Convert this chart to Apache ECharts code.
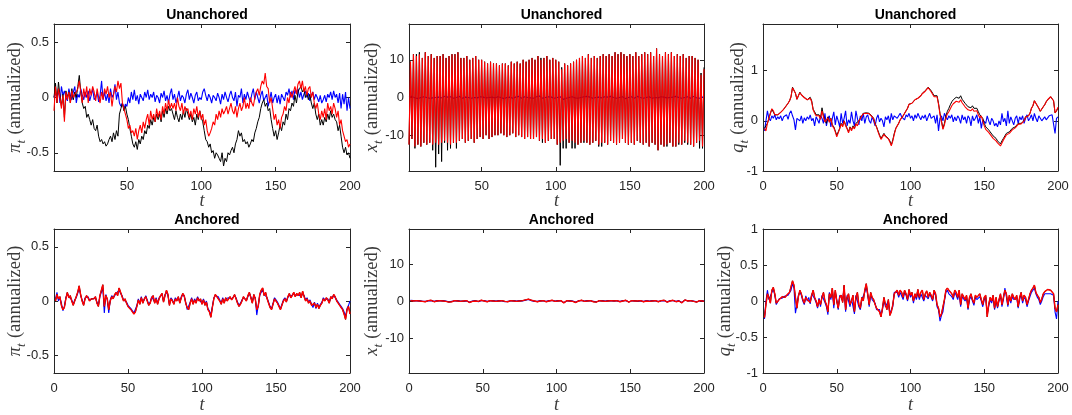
<!DOCTYPE html>
<html>
<head>
<meta charset="utf-8">
<script src="https://cdn.jsdelivr.net/npm/echarts@6/dist/echarts.min.js"></script>
<style>html,body{margin:0;padding:0;background:#fff}#c{width:1072px;height:415px}</style>
</head>
<body>
<div id="c"></div>
<script>
// ---- data: t = 1..200 ----
const piU_black = [
0.0,0.13,-0.05,0.14,0.02,-0.08,0.03,-0.18,0.06,0.0,
0.05,-0.05,0.08,-0.02,0.05,0.0,0.1,0.2,0.05,-0.05,
-0.1,-0.08,-0.18,-0.15,-0.2,-0.25,-0.2,-0.28,-0.3,-0.25,
-0.35,-0.4,-0.38,-0.42,-0.4,-0.44,-0.42,-0.38,-0.35,-0.4,
-0.32,-0.38,-0.3,-0.35,-0.15,-0.1,-0.05,-0.12,-0.08,-0.15,
-0.2,-0.28,-0.35,-0.42,-0.45,-0.4,-0.47,-0.38,-0.42,-0.35,
-0.38,-0.3,-0.33,-0.25,-0.28,-0.2,-0.25,-0.18,-0.22,-0.15,
-0.2,-0.15,-0.22,-0.12,-0.18,-0.1,-0.15,-0.08,-0.12,-0.1,
-0.15,-0.2,-0.12,-0.18,-0.22,-0.15,-0.2,-0.12,-0.18,-0.1,
-0.15,-0.2,-0.15,-0.22,-0.18,-0.25,-0.15,-0.2,-0.12,-0.18,
-0.22,-0.3,-0.38,-0.4,-0.45,-0.42,-0.5,-0.48,-0.55,-0.5,
-0.52,-0.55,-0.58,-0.5,-0.62,-0.55,-0.58,-0.5,-0.52,-0.48,
-0.45,-0.5,-0.42,-0.38,-0.3,-0.35,-0.32,-0.4,-0.38,-0.42,
-0.4,-0.45,-0.42,-0.38,-0.4,-0.32,-0.28,-0.22,-0.18,-0.1,
-0.05,-0.02,-0.08,-0.05,-0.12,-0.1,-0.2,-0.28,-0.35,-0.3,
-0.38,-0.32,-0.25,-0.3,-0.22,-0.25,-0.15,-0.2,-0.1,-0.12,
-0.05,-0.08,0.02,-0.05,0.05,0.08,0.1,0.05,0.08,0.0,
0.05,-0.02,0.03,-0.05,-0.1,-0.05,-0.15,-0.2,-0.15,-0.25,
-0.2,-0.25,-0.18,-0.22,-0.15,-0.2,-0.12,-0.18,-0.15,-0.2,
-0.22,-0.3,-0.25,-0.35,-0.45,-0.5,-0.45,-0.52,-0.5,-0.55];
const piU_red = [
-0.12,0.1,-0.05,0.08,0.0,-0.1,0.02,-0.22,0.05,-0.02,
0.05,-0.05,0.06,0.0,0.03,0.05,0.08,0.15,0.05,-0.05,
0.08,0.0,0.1,-0.05,0.08,0.02,0.1,0.05,-0.03,0.08,
0.0,-0.05,0.05,-0.02,0.08,0.03,0.1,0.0,0.05,-0.08,
0.02,0.1,0.05,0.15,0.08,0.13,-0.05,-0.1,-0.15,-0.2,
-0.28,-0.25,-0.32,-0.3,-0.35,-0.28,-0.38,-0.3,-0.25,-0.32,
-0.22,-0.28,-0.2,-0.15,-0.25,-0.12,-0.2,-0.15,-0.22,-0.1,
-0.18,-0.12,-0.2,-0.08,-0.15,-0.05,-0.12,-0.02,-0.1,-0.05,
-0.1,-0.05,-0.12,0.0,-0.08,-0.12,-0.05,-0.15,-0.08,-0.12,
-0.1,-0.18,-0.12,-0.2,-0.1,-0.15,-0.08,-0.18,-0.12,-0.2,
-0.15,-0.25,-0.2,-0.3,-0.35,-0.32,-0.28,-0.22,-0.25,-0.15,
-0.2,-0.12,-0.18,-0.1,-0.15,-0.12,-0.08,-0.15,-0.1,-0.05,
-0.12,-0.15,-0.08,-0.18,-0.1,-0.05,-0.12,-0.08,0.0,-0.1,
-0.05,-0.1,0.0,-0.05,-0.08,0.0,0.05,0.08,0.02,0.1,
0.15,0.12,0.22,0.1,0.08,-0.05,0.0,-0.1,-0.2,-0.15,
-0.25,-0.2,-0.28,-0.18,-0.15,-0.08,-0.12,0.0,-0.05,0.05,
0.0,0.05,0.1,0.03,0.12,0.15,0.08,0.15,0.05,0.1,
0.02,0.08,0.1,0.0,0.05,-0.05,-0.1,-0.05,-0.15,-0.2,
-0.12,-0.18,-0.1,-0.2,-0.05,-0.12,-0.08,-0.15,-0.05,-0.1,
-0.18,-0.12,-0.25,-0.2,-0.3,-0.35,-0.4,-0.38,-0.45,-0.42];
const piU_blue = [
0.0,0.05,-0.02,0.08,-0.05,0.1,0.02,0.06,0.0,-0.03,
0.08,0.02,-0.02,0.05,0.1,-0.05,0.03,0.0,0.08,0.02,
-0.02,0.05,0.0,0.06,-0.03,0.02,0.08,-0.02,0.0,0.05,
-0.04,0.02,0.15,-0.02,0.05,-0.03,0.03,-0.05,0.08,0.0,
0.03,0.12,-0.02,0.05,-0.05,-0.08,-0.05,-0.1,-0.06,-0.08,
0.0,-0.05,0.05,-0.02,0.07,-0.03,0.02,-0.06,0.03,0.0,
-0.03,0.05,0.0,0.07,-0.02,0.03,0.0,0.05,-0.04,0.02,
0.0,-0.05,0.04,0.0,0.06,-0.03,0.02,-0.05,0.03,0.08,
-0.02,0.03,-0.05,0.0,0.06,-0.03,0.02,0.0,-0.05,0.03,
0.07,-0.02,0.04,0.0,-0.05,0.02,0.05,-0.03,0.0,-0.02,
0.05,0.08,0.02,-0.03,0.03,0.0,-0.05,0.02,0.0,-0.03,
0.04,0.0,-0.06,0.03,-0.02,0.05,0.0,-0.04,0.02,0.06,
0.0,-0.03,0.05,-0.08,0.02,0.0,0.08,-0.05,0.03,-0.02,
0.05,0.0,-0.04,0.03,0.08,-0.02,0.05,0.0,-0.05,0.02,
0.06,-0.03,0.0,0.03,-0.08,-0.02,0.05,-0.05,0.0,0.03,
-0.05,0.02,-0.06,0.03,0.0,-0.03,0.05,0.02,0.08,0.0,
0.06,-0.02,0.07,0.03,0.08,0.0,0.05,-0.02,0.03,0.06,
0.0,0.04,-0.03,0.02,0.05,-0.02,0.03,0.0,-0.04,0.02,
-0.05,-0.02,0.02,-0.04,0.03,0.0,0.05,-0.02,0.06,0.0,
0.03,-0.05,0.04,-0.1,0.03,-0.06,0.05,-0.12,0.0,-0.1];

const xU_black = [
-12.5,9.5,-11,11.5,-13.5,11.5,-12.5,12,-13,10.5,
-12,12,-12.5,11,-12,11.5,-14,10.5,-18.5,11,
-15,11,-17,11.5,-12,10.5,-14,11,-13.5,11.5,
-12,11.5,-13.5,12,-11.5,10.5,-11,10.5,-12,11,
-11.5,10,-11,10.5,-12,11,-11,10,-10.5,10,
-11,9.5,-10,9,-11,9.5,-10.5,9,-10,9,
-10,8.5,-9.5,9,-10,9,-10.5,8.5,-10,9.5,
-9.5,9,-10.5,9.5,-10,9,-10.5,10,-11,9.5,
-10.5,10,-11,10.5,-11,10,-10.5,11,-11.5,10.5,
-12,10.5,-12,11,-11.5,10,-11,10.5,-11,10,
-12.5,9.5,-18,8,-13.5,9,-13.5,8.5,-12,9,
-13.5,9.5,-13.5,10,-12.5,10.5,-12,11,-12,10.5,
-12,11.5,-12.5,10.5,-12,11,-11.5,10.5,-13,11,
-13,11.5,-12,11,-12.5,11.5,-11.5,11,-12,12,
-12.5,11.5,-12,12,-11,11.5,-12,11,-12.5,11.5,
-12,11,-12.5,12,-11.5,11,-12,11.5,-12.5,12,
-12,11.5,-13,12,-12,11,-12.5,13,-14,11.5,
-12.5,11,-13,12,-13,11.5,-12,12,-13,11,
-13,11.5,-12.5,11,-12.5,11.5,-12,10.5,-12.5,11,
-12.5,11,-13,10.5,-12,10,-13.5,6.5,-13.5,8];
const xU_red = [
-12.5,9.5,-11,11.5,-13,11,-12.5,11.5,-13,10.5,
-12,12,-12.5,11,-12,11.5,-12.5,10.5,-12,11,
-12.5,11,-12,11.5,-11.5,10.5,-12,11,-12.5,11.5,
-12,11.5,-12,12,-11.5,10.5,-11,10.5,-12,11,
-11.5,10,-11,10.5,-12,11,-11,10,-10.5,10,
-11,9.5,-10,9,-11,9.5,-10.5,9,-10,9,
-10,8.5,-9.5,9,-10,9,-10.5,8.5,-10,9.5,
-9.5,9,-10.5,9.5,-10,9,-10.5,10,-11,9.5,
-10.5,10,-11,10.5,-11,10,-10.5,11,-11.5,10,
-11,10.5,-12,11,-11.5,10,-11,10.5,-11,10,
-12.5,9.5,-12,7.5,-11.5,9,-11,8.5,-12,9,
-11.5,9.5,-12,10,-12.5,10.5,-12,11,-11.5,10.5,
-12,11.5,-12.5,10.5,-12,11,-11.5,10.5,-12.5,11,
-12,11.5,-12,11,-12.5,11.5,-11.5,11,-12,12,
-12.5,11.5,-12,12,-11,11.5,-12,11,-12.5,11.5,
-12,11,-12.5,12,-11.5,11,-12,11.5,-12.5,12,
-12,11.5,-13,12,-12,11,-12.5,13,-14,11.5,
-12.5,11,-13,12,-12.5,11.5,-12,12,-13,11,
-13,11.5,-12,11,-12.5,11.5,-11.5,10.5,-12,11,
-12.5,11,-13,10.5,-12,10,-11.5,6,-13,7.5];
const xU_blue = [
0.1,-0.2,0.3,0.0,-0.1,0.2,-0.3,0.1,0.0,-0.2,
0.2,-0.1,0.0,0.3,-0.2,0.1,-0.1,0.2,0.0,-0.3,
0.1,0.2,-0.1,0.0,0.3,-0.2,0.1,-0.1,0.2,0.0,
-0.2,0.1,0.0,-0.1,0.3,0.0,-0.2,0.2,0.1,-0.1,
0.0,0.2,-0.2,0.1,0.0,0.3,-0.1,0.0,0.2,-0.2,
0.1,0.0,-0.1,0.2,0.0,-0.2,0.1,0.3,-0.1,0.0,
0.2,-0.1,0.0,0.1,-0.3,0.2,0.0,-0.1,0.1,0.2,
-0.2,0.0,0.1,-0.1,0.3,0.0,-0.2,0.1,0.2,-0.1,
0.0,0.3,-0.1,0.1,-0.2,0.0,0.2,-0.1,0.4,0.0,
-0.2,0.1,0.0,-0.1,0.2,-0.3,0.1,0.0,-0.2,0.1,
0.0,-0.4,0.2,-0.1,-0.5,0.0,-0.2,0.1,0.0,-0.1,
0.2,0.0,-0.1,0.1,-0.2,0.3,0.0,-0.1,0.2,0.0,
0.3,-0.1,0.1,0.0,-0.2,0.2,0.0,-0.1,0.1,0.3,
-0.1,0.0,0.2,-0.2,0.1,0.0,0.3,-0.1,0.0,0.2,
-0.2,0.1,0.0,-0.1,0.2,0.0,-0.3,0.1,0.0,-0.1,
0.2,0.0,-0.2,0.1,0.3,-0.1,0.0,0.2,-0.2,0.1,
0.0,-0.1,0.2,0.0,-0.2,0.1,0.0,0.3,-0.1,0.0,
0.2,-0.2,0.1,0.0,-0.1,0.2,0.0,-0.2,0.1,0.0,
0.3,-0.1,0.0,0.2,-0.2,0.1,0.0,-0.1,0.2,0.0,
-0.2,0.1,0.3,0.0,-0.1,0.2,-0.2,0.0,0.1,0.3];

const qU_black = [
-0.15,-0.18,-0.05,0.05,0.15,0.23,0.2,0.12,0.09,0.12,
0.14,0.17,0.2,0.23,0.27,0.3,0.35,0.4,0.48,0.67,
0.66,0.55,0.43,0.5,0.57,0.52,0.5,0.47,0.44,0.42,
0.45,0.47,0.4,0.23,0.18,0.12,0.09,0.12,0.05,0.26,
0.1,0.0,-0.05,0.08,-0.02,0.05,-0.08,-0.12,-0.2,-0.29,
-0.22,-0.15,-0.05,-0.1,0.0,-0.08,-0.15,-0.22,-0.12,-0.18,
-0.1,-0.15,-0.05,-0.08,0.0,0.05,0.1,0.15,0.18,0.16,
0.18,0.15,0.12,0.09,0.05,-0.05,-0.12,-0.2,-0.28,-0.35,
-0.3,-0.25,-0.3,-0.28,-0.35,-0.4,-0.48,-0.38,-0.25,-0.15,
-0.1,-0.05,0.02,0.0,0.1,0.15,0.2,0.25,0.33,0.3,
0.35,0.38,0.42,0.4,0.45,0.47,0.5,0.55,0.58,0.6,
0.63,0.67,0.65,0.6,0.55,0.5,0.47,0.5,0.35,0.15,
0.0,-0.15,-0.05,0.1,0.19,0.25,0.32,0.38,0.42,0.45,
0.47,0.5,0.45,0.5,0.43,0.4,0.35,0.32,0.28,0.3,
0.26,0.3,0.25,0.22,0.25,0.18,0.12,0.15,0.05,-0.05,
-0.12,-0.1,-0.18,-0.22,-0.25,-0.3,-0.28,-0.35,-0.4,-0.42,
-0.46,-0.4,-0.35,-0.3,-0.25,-0.28,-0.22,-0.2,-0.15,-0.18,
-0.12,-0.1,-0.05,-0.08,-0.05,-0.05,0.0,0.08,0.05,0.1,
0.15,0.25,0.3,0.4,0.35,0.3,0.25,0.19,0.22,0.28,
0.32,0.38,0.42,0.45,0.48,0.5,0.4,0.16,0.2,0.26];
const qU_red = [
-0.15,-0.2,-0.05,0.05,0.15,0.24,0.2,0.12,0.1,0.12,
0.14,0.17,0.2,0.23,0.27,0.3,0.35,0.4,0.48,0.66,
0.67,0.55,0.43,0.5,0.56,0.52,0.5,0.46,0.43,0.42,
0.44,0.45,0.38,0.22,0.15,0.1,0.08,0.1,0.03,0.2,
0.08,-0.02,-0.05,0.06,-0.03,0.05,-0.1,-0.14,-0.22,-0.32,
-0.24,-0.16,-0.06,-0.12,0.0,-0.1,-0.16,-0.24,-0.13,-0.2,
-0.12,-0.16,-0.06,-0.1,0.0,0.04,0.1,0.14,0.17,0.15,
0.17,0.14,0.11,0.08,0.04,-0.06,-0.13,-0.22,-0.3,-0.37,
-0.32,-0.27,-0.31,-0.29,-0.36,-0.42,-0.5,-0.4,-0.27,-0.16,
-0.1,-0.05,0.02,0.0,0.1,0.15,0.2,0.25,0.33,0.3,
0.35,0.38,0.42,0.4,0.45,0.46,0.5,0.54,0.57,0.59,
0.62,0.66,0.64,0.58,0.53,0.48,0.45,0.48,0.33,0.13,
-0.02,-0.17,-0.08,0.06,0.14,0.18,0.24,0.3,0.34,0.37,
0.39,0.42,0.37,0.42,0.36,0.33,0.28,0.26,0.22,0.25,
0.2,0.24,0.19,0.16,0.2,0.12,0.06,0.1,0.0,-0.1,
-0.17,-0.15,-0.23,-0.27,-0.3,-0.35,-0.33,-0.4,-0.44,-0.46,
-0.5,-0.44,-0.38,-0.33,-0.28,-0.31,-0.25,-0.23,-0.18,-0.2,
-0.14,-0.12,-0.07,-0.1,-0.06,-0.06,0.0,0.07,0.05,0.1,
0.15,0.25,0.3,0.4,0.35,0.3,0.25,0.19,0.22,0.28,
0.32,0.38,0.42,0.45,0.48,0.5,0.4,0.16,0.2,0.27];
const qU_blue = [
-0.2,0.0,0.2,0.05,0.0,0.1,0.05,0.12,0.02,0.08,
0.04,0.1,0.0,0.08,0.05,0.12,0.03,0.15,0.2,0.1,
0.02,-0.18,0.05,0.08,0.0,0.1,-0.05,0.06,0.0,0.08,
0.03,0.12,0.0,0.05,-0.1,0.08,0.02,-0.05,0.1,0.05,
-0.05,0.15,-0.1,0.05,0.1,-0.12,0.05,0.18,-0.08,0.1,
0.0,-0.12,0.15,-0.05,0.05,0.2,-0.1,0.02,-0.05,0.18,
0.0,-0.1,0.2,0.05,-0.08,0.1,0.0,0.15,-0.05,0.08,
0.12,0.0,-0.05,0.08,0.0,-0.1,0.05,0.12,-0.02,0.05,
0.0,-0.12,0.08,0.02,0.1,-0.05,0.15,0.02,0.1,0.12,
0.05,0.1,0.15,0.08,0.1,0.02,0.12,0.08,0.15,0.05,
0.1,0.0,0.12,0.05,0.15,0.08,0.02,0.1,0.05,0.12,
0.0,0.08,0.15,0.05,0.02,0.1,-0.05,0.12,-0.2,0.05,
0.1,0.0,0.15,0.08,0.02,0.1,0.05,0.12,-0.02,0.08,
0.0,0.1,0.05,-0.05,0.12,0.02,0.08,-0.05,0.1,0.05,
-0.1,0.1,0.0,0.05,0.12,-0.05,0.08,-0.15,0.02,0.05,
-0.05,0.1,0.0,-0.08,0.05,0.0,-0.1,-0.05,-0.12,0.0,
-0.08,0.15,-0.02,0.05,-0.1,0.2,-0.05,0.08,0.0,-0.08,
0.05,0.1,-0.05,0.08,0.02,0.1,-0.05,0.05,0.12,0.0,
0.05,0.12,0.0,0.15,0.05,-0.02,0.1,0.05,0.0,0.03,
0.08,0.02,0.05,0.1,0.08,0.12,0.1,-0.25,0.05,0.08];

const piA_red = [
0.0,0.06,0.02,0.04,-0.04,-0.08,-0.06,0.02,0.08,0.03,
0.05,0.0,-0.04,0.0,0.04,0.08,0.14,0.06,0.0,-0.04,
0.02,0.05,0.03,0.0,0.02,0.03,0.02,0.04,-0.02,-0.05,
0.05,0.1,0.15,-0.05,0.05,0.02,-0.08,0.0,0.04,0.02,
0.06,0.08,0.05,0.12,0.08,0.04,0.0,0.02,-0.02,-0.05,
-0.04,-0.08,-0.1,-0.12,-0.1,-0.05,0.01,-0.03,0.03,-0.02,
0.02,0.04,0.0,-0.04,-0.02,0.03,0.05,-0.02,0.02,-0.03,
0.02,0.05,0.07,-0.01,0.05,0.1,0.06,-0.04,0.02,0.0,
-0.03,0.02,0.0,0.04,-0.02,0.03,0.07,0.05,-0.02,-0.06,
-0.08,-0.02,0.02,-0.03,0.01,-0.02,0.03,0.0,0.02,-0.03,
0.01,-0.04,-0.01,-0.08,-0.1,-0.15,-0.06,0.02,0.06,0.04,
0.05,0.0,-0.03,0.02,-0.02,0.03,0.0,0.02,0.04,0.01,
0.03,0.06,0.02,-0.02,-0.05,-0.03,0.0,0.04,0.02,0.0,
0.05,0.08,0.03,-0.02,0.06,0.02,-0.08,-0.05,0.06,0.1,
0.12,0.05,0.08,0.02,-0.02,-0.06,-0.08,-0.03,0.02,0.0,
-0.02,-0.05,-0.08,-0.04,0.0,0.02,-0.01,0.04,0.07,0.03,
0.05,0.08,0.04,0.07,0.05,0.08,0.03,0.09,0.04,0.0,
0.02,-0.02,0.0,-0.04,-0.05,-0.02,-0.06,-0.03,-0.07,-0.04,
-0.02,0.02,0.0,0.03,0.01,-0.02,0.04,0.02,0.06,0.04,
0.0,-0.02,-0.04,-0.06,-0.08,-0.12,-0.17,-0.08,-0.05,-0.12];
const piA_blue = [
0.02,0.08,0.0,0.03,-0.02,-0.09,-0.05,0.03,0.07,0.04,
0.04,0.01,-0.03,0.01,0.03,0.07,0.12,0.05,0.01,-0.03,
0.03,0.04,0.04,0.01,0.01,0.02,0.03,0.03,-0.01,-0.04,
0.04,0.08,0.12,-0.11,0.06,0.01,-0.11,0.01,0.05,0.03,
0.05,0.07,0.06,0.1,0.07,0.05,0.01,0.01,-0.01,-0.04,
-0.05,-0.07,-0.09,-0.11,-0.12,-0.04,0.02,-0.02,0.04,-0.01,
0.01,0.05,0.01,-0.03,-0.01,0.04,0.04,-0.01,0.03,-0.02,
0.03,0.04,0.06,0.0,0.06,0.08,0.05,-0.03,0.03,0.01,
-0.02,0.03,0.01,0.03,-0.01,0.04,0.06,0.04,-0.01,-0.08,
-0.07,-0.01,0.03,-0.02,0.02,-0.01,0.04,0.01,0.01,-0.02,
0.02,-0.03,0.0,-0.07,-0.09,-0.13,-0.05,0.03,0.05,0.05,
0.04,0.01,-0.02,0.03,-0.01,0.02,0.01,0.03,0.03,0.02,
0.02,0.05,0.03,-0.01,-0.04,-0.02,0.01,0.03,0.03,0.01,
0.04,0.07,0.04,-0.01,0.05,0.03,-0.13,-0.04,0.05,0.08,
0.1,0.06,0.07,0.03,-0.01,-0.05,-0.07,-0.02,0.03,0.01,
-0.01,-0.04,-0.07,-0.03,0.01,0.03,0.0,0.03,0.06,0.04,
0.04,0.07,0.05,0.06,0.06,0.07,0.04,0.07,0.05,0.01,
0.03,-0.01,0.01,-0.03,-0.06,-0.01,-0.07,-0.02,-0.06,-0.03,
-0.01,0.03,0.01,0.02,0.02,-0.01,0.03,0.03,0.05,0.05,
0.01,-0.01,-0.03,-0.05,-0.07,-0.1,-0.14,-0.07,-0.04,0.0];

const xA_red = [
0.1,-0.2,0.0,-0.4,0.1,-0.3,0.0,0.2,-0.1,0.1,
-0.2,0.0,0.1,-0.1,0.2,0.0,-0.2,0.1,0.0,-0.1,
0.1,-0.2,0.0,0.5,-0.1,0.0,-0.3,0.1,-0.2,0.0,
0.1,-0.1,0.0,0.2,-0.1,0.1,0.0,-0.2,0.1,0.0,
-0.4,0.1,-0.1,0.2,0.0,0.1,-0.1,0.0,0.2,-0.1,
0.0,0.1,-0.2,0.0,0.1,-0.3,0.0,0.1,-0.1,0.2,
0.0,-0.2,0.1,0.0,-0.1,0.2,-0.2,0.0,0.1,-0.1,
0.0,0.2,-0.1,0.1,0.0,-0.2,0.1,0.0,0.3,0.2,
0.5,0.1,0.2,-0.1,0.0,0.3,-0.2,0.1,0.0,-0.1,
0.1,0.0,-0.2,0.1,0.0,-0.1,0.2,0.0,-0.1,0.1,
0.0,-0.2,0.1,-0.3,-0.5,0.0,0.1,-0.1,0.0,0.2,
-0.1,0.0,-0.4,0.1,0.0,-0.1,0.2,0.0,-0.1,0.1,
0.0,0.2,0.1,0.0,-0.2,-0.5,-0.3,0.0,0.1,-0.1,
0.0,0.2,-0.1,0.1,0.0,-0.2,0.1,0.3,0.0,-0.1,
0.1,0.0,-0.2,0.1,0.0,-0.1,0.2,0.0,-0.3,0.0,
0.1,-0.1,0.0,0.2,0.0,-0.1,0.1,0.0,-0.2,0.1,
0.0,0.1,-0.1,0.2,0.0,-0.1,0.1,0.0,-0.2,0.0,
0.1,-0.1,0.2,0.0,-0.3,0.1,0.0,-0.1,0.2,0.0,
-0.2,0.1,0.0,-0.1,-0.5,0.0,0.3,0.1,0.0,-0.2,
0.1,0.0,-0.1,0.2,-0.3,0.0,0.1,-0.2,0.0,-0.1];
const xA_blue = [
0.2,-0.1,0.1,-0.3,0.0,-0.2,0.1,0.3,-0.1,0.0,
-0.1,0.1,0.0,-0.2,0.1,0.1,-0.1,0.0,0.1,-0.2,
0.0,-0.1,0.1,0.4,0.0,-0.1,-0.2,0.2,-0.1,0.1,
0.0,-0.2,0.1,0.1,0.0,0.2,-0.1,-0.1,0.0,0.1,
-0.3,0.0,0.0,0.1,0.1,0.0,-0.2,0.1,0.1,0.0,
0.1,0.0,-0.1,0.1,0.0,-0.2,0.1,0.0,0.0,0.1,
0.1,-0.1,0.0,0.1,-0.2,0.1,-0.1,0.1,0.0,0.0,
0.1,0.1,0.0,0.0,0.1,-0.1,0.0,0.1,0.2,0.3,
0.4,0.2,0.1,0.0,-0.1,0.2,-0.1,0.0,0.1,0.0,
0.0,0.1,-0.1,0.0,0.1,0.0,0.1,-0.1,0.0,0.0,
0.1,-0.1,0.0,-0.2,-0.4,0.1,0.0,0.0,0.1,0.1,
0.0,-0.1,-0.3,0.0,0.1,0.0,0.1,-0.1,0.0,0.0,
0.1,0.1,0.0,0.1,-0.1,-0.4,-0.2,0.1,0.0,0.0,
0.1,0.1,0.0,0.0,0.1,-0.1,0.0,0.2,0.1,0.0,
0.0,0.1,-0.1,0.0,0.1,0.0,0.1,-0.1,-0.2,0.1,
0.0,0.0,0.1,0.1,-0.1,0.0,0.0,0.1,-0.1,0.0,
0.1,0.0,0.0,0.1,0.1,0.0,0.0,0.1,-0.1,0.1,
0.0,0.0,0.1,0.1,-0.2,0.0,0.1,0.0,0.1,0.1,
-0.1,0.0,0.1,0.0,-0.4,0.1,0.2,0.0,0.1,-0.1,
0.0,0.1,0.0,0.1,-0.2,0.1,0.0,-0.1,0.1,0.0];

const qA_red = [
-0.23,-0.05,0.1,0.05,-0.03,0.15,0.19,0.1,-0.03,-0.05,
0.02,0.04,0.06,0.08,0.05,0.08,0.06,0.12,0.2,0.28,
0.22,0.05,-0.1,0.06,0.15,0.1,0.02,-0.03,0.05,0.02,
0.04,-0.02,0.08,0.15,0.05,0.0,-0.08,0.02,-0.05,0.05,
0.12,0.0,-0.05,-0.15,0.1,0.05,0.18,-0.05,0.15,0.0,
-0.1,0.05,0.08,-0.02,0.22,-0.12,0.05,0.1,-0.05,0.0,
0.08,-0.15,0.05,0.12,-0.05,-0.1,0.05,0.0,0.15,0.24,
0.1,-0.05,0.12,0.05,0.02,-0.05,-0.1,-0.08,-0.15,-0.22,
-0.1,0.05,-0.05,-0.12,0.02,-0.2,-0.15,-0.05,0.1,0.12,
0.15,0.08,0.15,0.12,0.05,0.15,0.1,0.02,0.16,0.08,
0.12,0.0,0.1,0.05,0.16,0.05,0.12,0.15,0.02,0.1,
0.14,0.05,0.12,0.08,0.02,0.15,0.1,-0.05,-0.1,-0.22,
-0.18,-0.2,0.02,0.15,0.18,0.15,0.16,0.1,0.05,0.15,
0.12,0.05,0.15,-0.05,0.1,0.12,0.02,0.08,-0.1,0.05,
0.1,0.02,-0.03,0.08,0.05,0.03,0.1,0.02,-0.05,0.05,
0.08,-0.22,-0.05,0.05,0.0,0.08,-0.1,0.05,-0.08,0.02,
0.1,-0.05,0.05,0.15,0.1,-0.05,0.08,0.0,0.1,0.05,
0.02,0.08,-0.08,0.05,0.12,0.0,0.08,0.05,-0.05,0.02,
0.1,0.15,0.18,0.22,0.12,0.08,0.05,-0.02,0.03,0.1,
0.13,0.15,0.16,0.16,0.15,0.14,0.1,-0.1,-0.15,-0.05];
const qA_blue = [
-0.25,0.0,0.15,0.02,0.0,0.12,0.16,0.08,-0.05,-0.03,
0.03,0.05,0.04,0.06,0.07,0.05,0.08,0.1,0.15,0.24,
0.18,-0.17,-0.05,0.08,0.12,0.08,0.0,-0.05,0.07,0.0,
0.05,-0.04,0.1,0.12,0.03,-0.02,-0.1,0.04,-0.08,0.08,
0.1,-0.02,-0.08,-0.19,0.12,0.02,0.15,-0.1,0.12,0.02,
-0.12,0.08,0.05,0.0,0.2,-0.15,0.08,0.06,-0.08,0.03,
0.05,-0.18,0.08,0.1,-0.08,-0.12,0.02,0.03,0.12,0.2,
0.08,-0.08,0.1,0.02,0.0,-0.03,-0.12,-0.1,-0.12,-0.2,
-0.12,0.02,-0.08,-0.1,0.0,-0.18,-0.12,-0.08,0.12,0.1,
0.12,0.05,0.12,0.1,0.02,0.12,0.08,0.0,0.12,0.05,
0.1,-0.03,0.08,0.02,0.12,0.02,0.1,0.12,0.0,0.08,
0.1,0.03,0.1,0.05,0.0,0.12,0.08,-0.08,-0.12,-0.28,
-0.2,-0.15,0.0,0.12,0.15,0.1,0.12,0.06,0.02,0.12,
0.08,0.02,0.12,-0.08,0.06,0.08,0.0,0.05,-0.12,0.02,
0.06,0.0,-0.06,0.05,0.02,0.0,0.06,0.0,-0.08,0.02,
0.05,-0.18,-0.08,0.02,-0.03,0.05,-0.12,0.02,-0.1,0.0,
0.08,-0.08,0.02,0.18,0.06,-0.08,0.05,-0.03,0.06,0.02,
0.0,0.05,-0.1,0.02,0.1,-0.03,0.05,0.02,-0.08,0.0,
0.06,0.12,0.15,0.18,0.1,0.05,0.02,-0.05,0.0,0.06,
0.1,0.1,0.1,0.1,0.1,0.1,0.08,-0.15,-0.25,0.0];

const xTicksTop = [50,100,150,200];
const xTicksAll = [0,50,100,150,200];
const piTicks = [-0.5,0,0.5];
const xTicks = [-10,0,10];
const qTicksTop = [-1,0,1];
const qTicksBot = [-1,-0.5,0,0.5,1];

// ---- layout ----
const panels = [
 {title:'Unanchored', sym:'π', left:54, top:24, w:296, h:147, xmin:1, xt:xTicksTop, ymin:-0.665, ymax:0.665, yt:piTicks, gap:26, rw:1.1, k:piU_black, r:piU_red, b:piU_blue},
 {title:'Unanchored', sym:'x', left:409, top:24, w:295, h:147, xmin:1, xt:xTicksTop, ymin:-19.5, ymax:19.5, yt:xTicks, gap:24, rw:1.15, k:xU_black, r:xU_red, b:xU_blue},
 {title:'Unanchored', sym:'q', left:763, top:24, w:295, h:147, xmin:0, xt:xTicksAll, ymin:-1, ymax:1.93, yt:qTicksTop, gap:12, rw:1.1, k:qU_black, r:qU_red, b:qU_blue},
 {title:'Anchored', sym:'π', left:54, top:229, w:296, h:149, xmin:0, xt:xTicksAll, ymin:-0.665, ymax:0.665, yt:piTicks, gap:26, rw:1.4, k:piA_red, r:piA_red, b:piA_blue},
 {title:'Anchored', sym:'x', left:409, top:229, w:295, h:149, xmin:0, xt:xTicksAll, ymin:-19.5, ymax:19.5, yt:xTicks, gap:24, rw:1.4, k:xA_red, r:xA_red, b:xA_blue},
 {title:'Anchored', sym:'q', left:763, top:229, w:295, h:149, xmin:0, xt:xTicksAll, ymin:-1, ymax:1, yt:qTicksBot, gap:25, rw:1.4, k:qA_red, r:qA_red, b:qA_blue}
];

const AX = '#262626';
const labelStyle = {fontFamily:'Liberation Sans, Arial, sans-serif', fontSize:13, color:AX};
const toPts = arr => arr.map((v,i)=>[i+1, v]);
const LBL = '#3a3a3a';

const option = {animation:false, backgroundColor:'#fff', title:[], grid:[], xAxis:[], yAxis:[], series:[]};
panels.forEach((p,g)=>{
  option.grid.push({left:p.left, top:p.top, width:p.w, height:p.h, containLabel:false});
  option.title.push({text:p.title, left:p.left+p.w/2, top:p.top-21, textAlign:'center',
    textStyle:{fontFamily:'Liberation Sans, Arial, sans-serif', fontWeight:'bold', fontSize:14, color:'#000'}});
  const common = {type:'value', gridIndex:g, splitLine:{show:false}};
  const xb = g*2, yb = g*2;
  option.xAxis.push(Object.assign({}, common, {min:p.xmin, max:200, position:'bottom',
    axisLine:{show:true, onZero:false, lineStyle:{color:AX, width:1}},
    axisTick:{show:true, inside:true, length:4, customValues:p.xt, lineStyle:{color:AX}},
    axisLabel:{show:true, customValues:p.xt, margin:9, ...labelStyle},
    name:'t', nameLocation:'middle', nameGap:g<3?21:23, nameMoveOverlap:false,
    nameTextStyle:{fontFamily:'Liberation Serif, serif', fontStyle:'italic', fontSize:18, color:LBL}}));
  option.xAxis.push(Object.assign({}, common, {min:p.xmin, max:200, position:'top',
    axisLine:{show:true, onZero:false, lineStyle:{color:AX, width:1}},
    axisTick:{show:true, inside:true, length:4, customValues:p.xt, lineStyle:{color:AX}},
    axisLabel:{show:false}}));
  option.yAxis.push(Object.assign({}, common, {min:p.ymin, max:p.ymax, position:'left',
    axisLine:{show:true, onZero:false, lineStyle:{color:AX, width:1}},
    axisTick:{show:true, inside:true, length:4, customValues:p.yt, lineStyle:{color:AX}},
    axisLabel:{show:true, customValues:p.yt, margin:5, ...labelStyle},
    name:'{i|'+p.sym+'}{s|t} {r|(annualized)}', nameLocation:'middle', nameRotate:90, nameGap:p.gap, nameMoveOverlap:false,
    nameTextStyle:{color:LBL, rich:{
      i:{fontFamily:'Liberation Serif, serif', fontStyle:'italic', fontSize:18.5, color:LBL, verticalAlign:'bottom', padding:[0,0,3,0]},
      s:{fontFamily:'Liberation Serif, serif', fontStyle:'italic', fontSize:13, color:LBL, verticalAlign:'bottom', padding:[0,2,0,0]},
      r:{fontFamily:'Liberation Serif, serif', fontSize:18.5, color:LBL, verticalAlign:'bottom', padding:[0,0,3,0]}
    }}}));
  option.yAxis.push(Object.assign({}, common, {min:p.ymin, max:p.ymax, position:'right',
    axisLine:{show:true, onZero:false, lineStyle:{color:AX, width:1}},
    axisTick:{show:true, inside:true, length:4, customValues:p.yt, lineStyle:{color:AX}},
    axisLabel:{show:false}}));
  const mk = (arr, color, w) => ({type:'line', xAxisIndex:xb, yAxisIndex:yb, data:toPts(arr), showSymbol:false, symbol:'none',
    lineStyle:{color:color, width:w}, itemStyle:{color:color}, silent:true, clip:true});
  option.series.push(mk(p.b, '#0000ff', 1.1));
  option.series.push(mk(p.k, '#000000', 1.0));
  option.series.push(mk(p.r, '#ff0000', p.rw));
});

const chart = echarts.init(document.getElementById('c'), null, {renderer:'canvas'});
chart.setOption(option);
</script>
</body>
</html>
